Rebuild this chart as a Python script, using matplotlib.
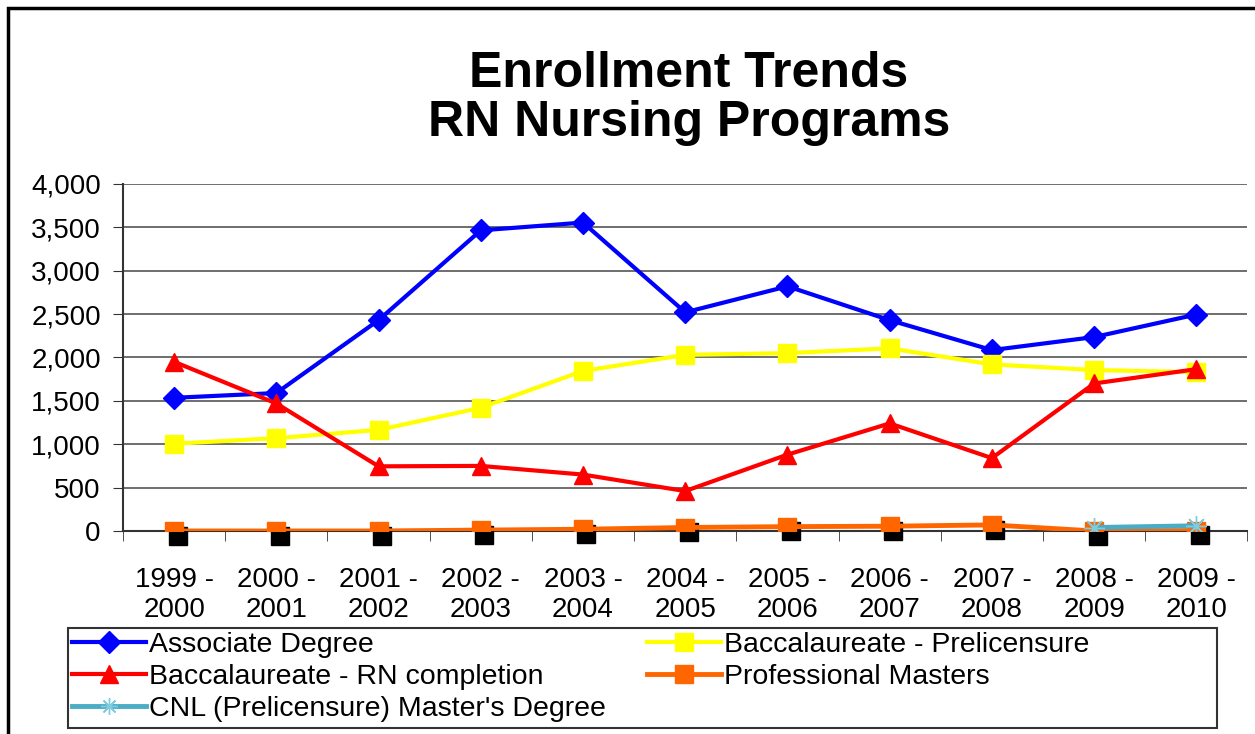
import matplotlib
matplotlib.use("Agg")
import matplotlib.pyplot as plt
from matplotlib.patches import Rectangle
from matplotlib.transforms import ScaledTranslation
from matplotlib.ticker import FuncFormatter, MultipleLocator

plt.rcParams['font.family'] = ['Liberation Sans', 'DejaVu Sans']

years = ["1999 -\n2000", "2000 -\n2001", "2001 -\n2002", "2002 -\n2003", "2003 -\n2004",
         "2004 -\n2005", "2005 -\n2006", "2006 -\n2007", "2007 -\n2008", "2008 -\n2009",
         "2009 -\n2010"]

associate = [1535, 1590, 2430, 3465, 3555, 2520, 2820, 2430, 2085, 2235, 2495]
bacc_prelicensure = [1005, 1070, 1165, 1420, 1845, 2030, 2050, 2105, 1920, 1855, 1830]
bacc_rn_completion = [1950, 1470, 745, 750, 650, 460, 880, 1240, 840, 1700, 1865]
prof_masters = [0, 0, 0, 10, 20, 40, 50, 55, 70, 0, 5]
cnl_masters = [None] * 9 + [40, 60]

x = list(range(len(years)))
cnl = [v if v is not None else float("nan") for v in cnl_masters]

fig = plt.figure(figsize=(12.55, 7.34), dpi=100)
ax = fig.add_axes([0.098, 0.2766, 0.896, 0.4728])

ax.plot(x, associate, color="#0000FF", lw=3, marker="D", ms=11, label="Associate Degree", zorder=5)
ax.plot(x, bacc_rn_completion, color="#FF0000", lw=3, marker="^", ms=13, label="Baccalaureate - RN completion", zorder=5.5)
ax.plot(x, cnl, color="#4BACC6", lw=3.5, marker=(8, 2, 0), ms=0, label="CNL (Prelicensure) Master's Degree", zorder=4)
ax.plot(x, bacc_prelicensure, color="#FFFF00", lw=3, marker="s", ms=13, label="Baccalaureate - Prelicensure", zorder=5)
ax.plot(x, prof_masters, color="#FF6600", lw=3.5, label="Professional Masters", marker="s", ms=13, zorder=3)

# black drop shadow behind the professional masters squares
shadow = ax.transData + ScaledTranslation(2.5 / 72, -3.5 / 72, fig.dpi_scale_trans)
ax.plot(x, prof_masters, ls="none", marker="s", ms=13, color="black", transform=shadow, zorder=2.9,
        clip_on=False)
# cnl star markers drawn over
ax.plot(x, cnl, ls="none", marker=(8, 2, 0), ms=15, mec="#7FCBE0", mew=1, zorder=6)

ax.set_xlim(-0.5, len(years) - 0.5)
ax.set_ylim(0, 4000)
ax.yaxis.set_major_locator(MultipleLocator(500))
ax.yaxis.set_major_formatter(FuncFormatter(lambda v, p: f"{int(v):,}"))
ax.grid(axis="y", color="#555555", lw=1.2)
ax.set_axisbelow(True)

ax.set_xticks(x)
ax.set_xticklabels(years)
ax.set_xticks([i - 0.5 for i in range(len(years) + 1)], minor=True)
ax.tick_params(axis="x", which="major", length=0, pad=26, labelsize=20)
ax.tick_params(axis="x", which="minor", length=7, direction="out", color="#333333")
ax.tick_params(axis="y", length=7, direction="out", labelsize=20, pad=9, color="#333333")

for s in ["top", "right"]:
    ax.spines[s].set_visible(False)
for s in ["left", "bottom"]:
    ax.spines[s].set_color("#333333")
    ax.spines[s].set_linewidth(1.5)

fig.text(0.549, 0.866, "Enrollment Trends\nRN Nursing Programs", ha="center", va="center",
         fontsize=36, fontweight="bold", linespacing=1.1)

handles, labels = ax.get_legend_handles_labels()
leg = fig.legend(handles, labels, ncol=2, loc="upper left", bbox_to_anchor=(0.054, 0.145),
                 fontsize=20.5, frameon=False,
                 handlelength=2.6, handletextpad=0.1, labelspacing=0.22, borderpad=0.15,
                 columnspacing=1.45, borderaxespad=0)
leg.legend_handles[2].set_markersize(12)
leg.legend_handles[2].set_markeredgecolor("#7FCBE0")

# legend box
fig.patches.append(Rectangle((68 / 1255, 1 - 728 / 734), 1149 / 1255, 100 / 734, transform=fig.transFigure,
                             fill=False, ec="#333333", lw=1.5))
# outer chart border
fig.patches.append(Rectangle((8 / 1255, -0.1), 1.2, 1.1 - 8 / 734, transform=fig.transFigure,
                             fill=False, ec="black", lw=2.5))

fig.savefig("out.png", dpi=100)
